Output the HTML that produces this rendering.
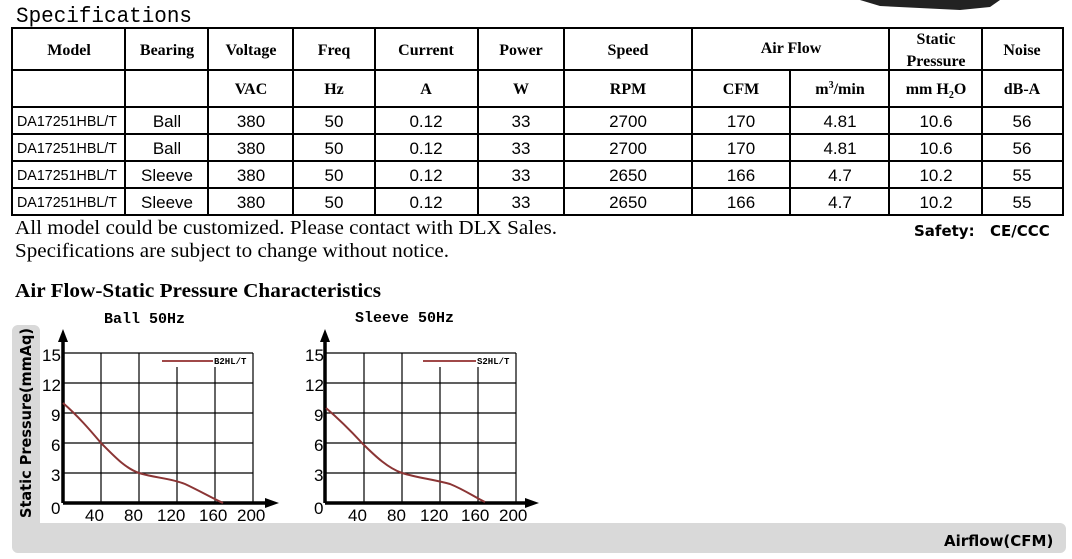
<!DOCTYPE html>
<html><head><meta charset="utf-8"><style>
html,body{margin:0;padding:0;background:#fff;}
svg{display:block}
.hb{font-family:"Liberation Serif",serif;font-weight:bold;font-size:16px;text-anchor:middle}
.d{font-family:"Liberation Sans",sans-serif;font-size:17px;text-anchor:middle}
.t{font-family:"Liberation Sans",sans-serif;font-size:15px}
.s{font-family:"Liberation Serif",serif;font-size:20px}
.ax{font-family:"Liberation Sans",sans-serif;font-size:17px}
.mono{font-family:"Liberation Mono",monospace}
</style></head><body>
<svg width="1072" height="559" viewBox="0 0 1072 559" xmlns="http://www.w3.org/2000/svg">
<polygon points="860,0 1000,0 990,7 960,10 880,6" fill="#222"/>
<text x="16" y="22" class="mono" font-size="22" textLength="176" lengthAdjust="spacingAndGlyphs">Specifications</text>
<g stroke="#000" stroke-width="2" fill="none">
<rect x="12" y="28" width="1051" height="187"/>
<line x1="12" y1="70" x2="1063" y2="70"/>
<line x1="12" y1="107" x2="1063" y2="107"/>
<line x1="12" y1="134" x2="1063" y2="134"/>
<line x1="12" y1="161" x2="1063" y2="161"/>
<line x1="12" y1="188" x2="1063" y2="188"/>
<line x1="125" y1="28" x2="125" y2="215"/>
<line x1="208" y1="28" x2="208" y2="215"/>
<line x1="293" y1="28" x2="293" y2="215"/>
<line x1="375" y1="28" x2="375" y2="215"/>
<line x1="478" y1="28" x2="478" y2="215"/>
<line x1="564" y1="28" x2="564" y2="215"/>
<line x1="692" y1="28" x2="692" y2="215"/>
<line x1="790" y1="70" x2="790" y2="215"/>
<line x1="889" y1="28" x2="889" y2="215"/>
<line x1="982" y1="28" x2="982" y2="215"/>
</g>
<g class="hb">
<text x="69" y="55">Model</text><text x="167" y="55">Bearing</text><text x="251" y="55">Voltage</text>
<text x="334" y="55">Freq</text><text x="426" y="55">Current</text><text x="521" y="55">Power</text>
<text x="628" y="55">Speed</text><text x="791" y="53">Air Flow</text>
<text x="936" y="44">Static</text><text x="936" y="66">Pressure</text><text x="1022" y="55">Noise</text>
<text x="251" y="94">VAC</text><text x="334" y="94">Hz</text><text x="426" y="94">A</text><text x="521" y="94">W</text>
<text x="628" y="94">RPM</text><text x="741" y="94">CFM</text><text x="840" y="94">m<tspan font-size="10" dy="-6">3</tspan><tspan dy="6">/min</tspan></text>
<text x="936" y="94">mm H<tspan font-size="10" dy="4">2</tspan><tspan dy="-4">O</tspan></text><text x="1022" y="94">dB-A</text>
</g>
<g>
<text x="17" y="126" class="t" font-size="14" textLength="100" lengthAdjust="spacingAndGlyphs">DA17251HBL/T</text>
<text x="17" y="153" class="t" font-size="14" textLength="100" lengthAdjust="spacingAndGlyphs">DA17251HBL/T</text>
<text x="17" y="180" class="t" font-size="14" textLength="100" lengthAdjust="spacingAndGlyphs">DA17251HBL/T</text>
<text x="17" y="207" class="t" font-size="14" textLength="100" lengthAdjust="spacingAndGlyphs">DA17251HBL/T</text>
</g>
<g class="d">
<text x="167" y="127">Ball</text><text x="251" y="127">380</text><text x="334" y="127">50</text><text x="426" y="127">0.12</text><text x="521" y="127">33</text><text x="628" y="127">2700</text><text x="741" y="127">170</text><text x="840" y="127">4.81</text><text x="936" y="127">10.6</text><text x="1022" y="127">56</text>
<text x="167" y="154">Ball</text><text x="251" y="154">380</text><text x="334" y="154">50</text><text x="426" y="154">0.12</text><text x="521" y="154">33</text><text x="628" y="154">2700</text><text x="741" y="154">170</text><text x="840" y="154">4.81</text><text x="936" y="154">10.6</text><text x="1022" y="154">56</text>
<text x="167" y="181">Sleeve</text><text x="251" y="181">380</text><text x="334" y="181">50</text><text x="426" y="181">0.12</text><text x="521" y="181">33</text><text x="628" y="181">2650</text><text x="741" y="181">166</text><text x="840" y="181">4.7</text><text x="936" y="181">10.2</text><text x="1022" y="181">55</text>
<text x="167" y="208">Sleeve</text><text x="251" y="208">380</text><text x="334" y="208">50</text><text x="426" y="208">0.12</text><text x="521" y="208">33</text><text x="628" y="208">2650</text><text x="741" y="208">166</text><text x="840" y="208">4.7</text><text x="936" y="208">10.2</text><text x="1022" y="208">55</text>
</g>
<text x="15" y="234" class="s" textLength="542" lengthAdjust="spacingAndGlyphs">All model could be customized. Please contact with DLX Sales.</text>
<text x="15" y="257" class="s" textLength="434" lengthAdjust="spacingAndGlyphs">Specifications are subject to change without notice.</text>
<text x="914" y="236" font-family="'DejaVu Sans',sans-serif" font-weight="bold" font-size="15">Safety:</text>
<text x="990" y="236" font-family="'DejaVu Sans',sans-serif" font-weight="bold" font-size="15">CE/CCC</text>
<text x="15" y="297" font-family="'Liberation Serif',serif" font-weight="bold" font-size="20" textLength="366" lengthAdjust="spacingAndGlyphs">Air Flow-Static Pressure Characteristics</text>

<path d="M18,325 H34 a6,6 0 0 1 6,6 V523 H1060 a6,6 0 0 1 6,6 V547 a6,6 0 0 1 -6,6 H18 a6,6 0 0 1 -6,-6 V331 a6,6 0 0 1 6,-6 Z" fill="#d9d9d9"/>
<text transform="translate(31,518) rotate(-90)" font-family="'DejaVu Sans',sans-serif" font-weight="bold" font-size="15" textLength="190" lengthAdjust="spacingAndGlyphs">Static Pressure(mmAq)</text>
<text x="944" y="546" font-family="'DejaVu Sans',sans-serif" font-weight="bold" font-size="15">Airflow(CFM)</text>

<text x="104" y="323" class="mono" font-weight="bold" font-size="15">Ball 50Hz</text>
<text x="355" y="322" class="mono" font-weight="bold" font-size="15">Sleeve 50Hz</text>

<g stroke="#000" stroke-width="1.2" fill="none">
<line x1="63" y1="353" x2="253" y2="353"/><line x1="63" y1="383" x2="253" y2="383"/><line x1="63" y1="413" x2="253" y2="413"/><line x1="63" y1="443" x2="253" y2="443"/><line x1="63" y1="473" x2="253" y2="473"/>
<line x1="101" y1="353" x2="101" y2="503"/><line x1="139" y1="353" x2="139" y2="503"/><line x1="177" y1="367" x2="177" y2="503"/><line x1="215" y1="367" x2="215" y2="503"/><line x1="253" y1="353" x2="253" y2="503"/>
</g>
<g stroke="#000" stroke-width="3.5"><line x1="63" y1="503" x2="268" y2="503"/><line x1="63" y1="503" x2="63" y2="340"/></g>
<polygon points="63,329 58,342 68,342" fill="#000"/><polygon points="279,503 265,498 265,508" fill="#000"/>
<line x1="162" y1="361" x2="213" y2="361" stroke="#a04848" stroke-width="2"/>
<text x="214" y="364" class="mono" font-size="9" font-weight="bold">B2HL/T</text>
<path d="M63,403 C78,416 90,430 101,443 C115,457 125,468 139,473 C155,478 170,478 185,484 C200,491 212,498 223,503" stroke="#8b3535" stroke-width="2" fill="none"/>
<g class="ax"><text x="42" y="361">15</text><text x="42" y="391">12</text><text x="51" y="421">9</text><text x="51" y="451">6</text><text x="51" y="481">3</text><text x="51" y="514">0</text>
<text x="85" y="521">40</text><text x="124" y="521">80</text><text x="157" y="521">120</text><text x="199" y="521">160</text><text x="237" y="521">200</text></g>

<g stroke="#000" stroke-width="1.2" fill="none">
<line x1="325" y1="353" x2="516" y2="353"/><line x1="325" y1="383" x2="516" y2="383"/><line x1="325" y1="413" x2="516" y2="413"/><line x1="325" y1="443" x2="516" y2="443"/><line x1="325" y1="473" x2="516" y2="473"/>
<line x1="364" y1="353" x2="364" y2="503"/><line x1="402" y1="353" x2="402" y2="503"/><line x1="440" y1="367" x2="440" y2="503"/><line x1="478" y1="367" x2="478" y2="503"/><line x1="516" y1="353" x2="516" y2="503"/>
</g>
<g stroke="#000" stroke-width="3.5"><line x1="325" y1="503" x2="527" y2="503"/><line x1="325" y1="503" x2="325" y2="340"/></g>
<polygon points="325,329 320,342 330,342" fill="#000"/><polygon points="539,503 525,498 525,508" fill="#000"/>
<line x1="423" y1="361" x2="476" y2="361" stroke="#a04848" stroke-width="2"/>
<text x="477" y="364" class="mono" font-size="9" font-weight="bold">S2HL/T</text>
<path d="M326,408 C340,420 350,430 362,443 C376,457 388,468 402,473 C418,478 432,479 450,484 C465,490 476,498 485,502" stroke="#8b3535" stroke-width="2" fill="none"/>
<g class="ax"><text x="305" y="361">15</text><text x="305" y="391">12</text><text x="314" y="421">9</text><text x="314" y="451">6</text><text x="314" y="481">3</text><text x="314" y="514">0</text>
<text x="348" y="521">40</text><text x="387" y="521">80</text><text x="420" y="521">120</text><text x="461" y="521">160</text><text x="499" y="521">200</text></g>
</svg>
</body></html>
